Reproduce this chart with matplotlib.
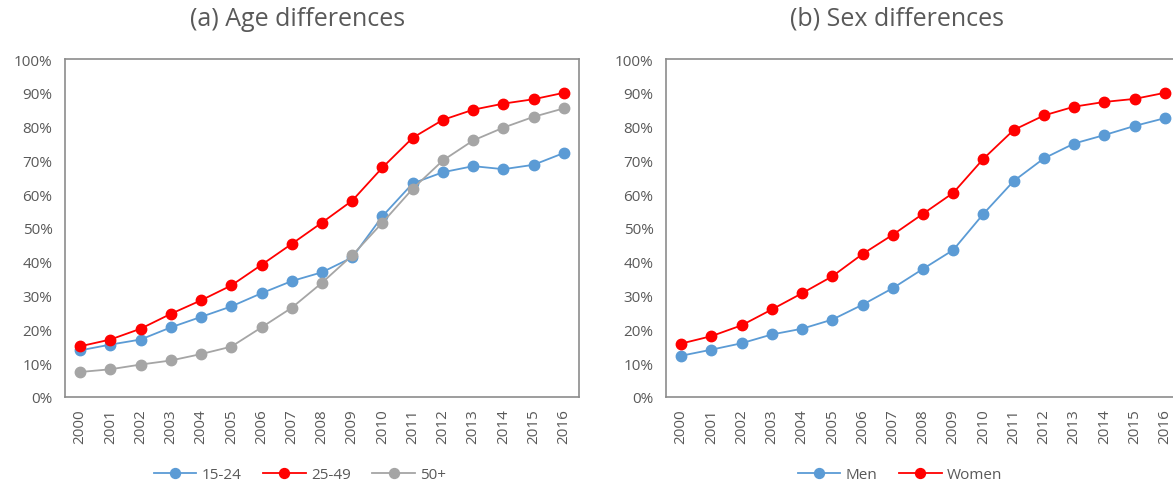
import matplotlib
matplotlib.use("Agg")
import matplotlib.pyplot as plt
from matplotlib.ticker import PercentFormatter, MultipleLocator

plt.rcParams['font.family'] = ['Open Sans', 'DejaVu Sans']

years = list(range(2000, 2017))
year_labels = [str(y) for y in years]

age_15_24 = [13.8, 15.5, 17.0, 20.6, 23.7, 26.8, 30.7, 34.3, 36.9, 41.3,
             53.5, 63.2, 66.5, 68.3, 67.4, 68.7, 72.2]
age_25_49 = [15.0, 17.0, 20.2, 24.6, 28.6, 33.0, 39.1, 45.3, 51.6, 58.1,
             67.9, 76.7, 82.0, 85.0, 86.8, 88.1, 90.0]
age_50_plus = [7.4, 8.2, 9.6, 10.8, 12.7, 14.9, 20.6, 26.4, 33.8, 41.9,
               51.6, 61.6, 70.0, 75.9, 79.7, 82.9, 85.4]

men = [12.2, 14.0, 15.9, 18.5, 20.2, 22.9, 27.3, 32.2, 37.9, 43.5,
       54.2, 63.9, 70.6, 75.0, 77.5, 80.2, 82.5]
women = [15.8, 18.0, 21.2, 25.9, 30.7, 35.7, 42.3, 48.0, 54.2, 60.4,
         70.5, 79.0, 83.3, 85.9, 87.3, 88.2, 90.0]

BLUE = '#5B9BD5'
RED = '#FF0000'
GRAY = '#A5A5A5'
TEXT = '#595959'
FRAME = '#8C8C8C'

W, H = 1173, 485
fig = plt.figure(figsize=(W / 100, H / 100), dpi=100)

ax_h = (398 - 60) / H
ax_w = 514 / W
ax_b = 1 - 398 / H
ax1 = fig.add_axes([65 / W, ax_b, ax_w, ax_h])
ax2 = fig.add_axes([666 / W, ax_b, ax_w, ax_h])


def style(ax):
    ax.set_xlim(-0.5, len(years) - 0.5)
    ax.set_ylim(0, 100)
    ax.yaxis.set_major_locator(MultipleLocator(10))
    ax.yaxis.set_major_formatter(PercentFormatter(decimals=0))
    ax.set_xticks(range(len(years)))
    ax.set_xticklabels(year_labels, rotation=90)
    ax.tick_params(axis='both', length=0, labelsize=11, colors=TEXT)
    ax.tick_params(axis='x', pad=8)
    ax.tick_params(axis='y', pad=9)
    for sp in ax.spines.values():
        sp.set_color(FRAME)
        sp.set_linewidth(1.2)


def series(ax, values, color, label):
    ax.plot(range(len(years)), values, color=color, lw=1.3, marker='o',
            markersize=7.5, label=label, clip_on=False)


series(ax1, age_15_24, BLUE, '15-24')
series(ax1, age_25_49, RED, '25-49')
series(ax1, age_50_plus, GRAY, '50+')
style(ax1)

series(ax2, men, BLUE, 'Men')
series(ax2, women, RED, 'Women')
style(ax2)

fig.text(298 / W, 1 - 19 / H, '(a) Age differences', ha='center',
         va='center', fontsize=18, color=TEXT)
fig.text(897 / W, 1 - 19 / H, '(b) Sex differences', ha='center',
         va='center', fontsize=18, color=TEXT)

legend_kw = dict(loc='center', frameon=False, fontsize=11, labelcolor=TEXT,
                 handlelength=2.8, columnspacing=1.4, handletextpad=0.35,
                 markerscale=0.95)
fig.legend(*ax1.get_legend_handles_labels(), ncol=3,
           bbox_to_anchor=(300 / W, 1 - 476 / H), **legend_kw)
fig.legend(*ax2.get_legend_handles_labels(), ncol=2,
           bbox_to_anchor=(900 / W, 1 - 476 / H), **legend_kw)

fig.savefig('out.png', dpi=100, facecolor='white')
